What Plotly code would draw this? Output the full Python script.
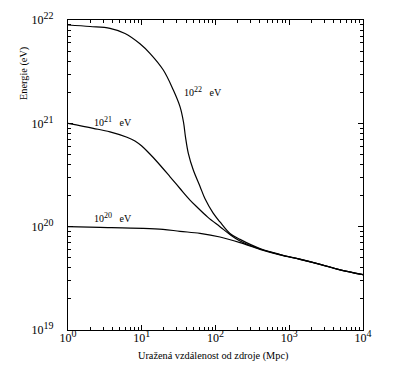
import plotly.graph_objects as go

# Distance from source (Mpc) and energy (eV) for the three initial energies
dist_20 = [1, 2.72, 10.4, 19.4, 33, 61.7, 115, 215, 401, 750, 1400, 2612,
           4875, 10000]
energy_20 = [1.0e20, 9.86e19, 9.64e19, 9.42e19, 9.02e19, 8.61e19, 7.94e19,
             7.0e19, 6.03e19, 5.33e19, 4.82e19, 4.32e19, 3.82e19, 3.43e19]

dist_21 = [1, 2.2, 3.71, 6.31, 8.09, 10, 12.6, 15.8, 24.2, 33.0, 45.1, 56.1,
           79.1, 115, 157, 215, 401, 750, 1400, 2612, 4875, 10000]
energy_21 = [1.0e21, 8.95e20, 8.26e20, 7.33e20, 6.76e20, 6.03e20, 5.13e20,
             4.32e20, 3.04e20, 2.34e20, 1.81e20, 1.55e20, 1.23e20, 1.0e20,
             8.4e19, 7.26e19, 6.08e19, 5.35e19, 4.83e19, 4.32e19, 3.82e19,
             3.43e19]

dist_22 = [1, 1.99, 3.71, 5.93, 9.46, 12.9, 19.6, 26.8, 33.0, 36.8, 39.2, 42.8,
           50.0, 61.7, 72.1, 92.5, 115, 157, 215, 401, 750, 1400, 2612, 4875,
           10000]
energy_22 = [8.95e21, 8.65e21, 8.31e21, 7.41e21, 5.89e21, 4.76e21, 3.28e21,
             2.10e21, 1.45e21, 1.03e21, 7.36e20, 5.13e20, 3.53e20, 2.45e20,
             1.86e20, 1.36e20, 1.11e20, 8.6e19, 7.53e19, 6.14e19, 5.38e19,
             4.85e19, 4.33e19, 3.83e19, 3.44e19]

x_tickvals = [1, 10, 100, 1000, 10000]
x_exps = ["0", "1", "2", "3", "4"]
y_tickvals = [1e19, 1e20, 1e21, 1e22]
y_exps = ["19", "20", "21", "22"]

curve_exps = ["22", "21", "20"]
x_title = "Uražená vzdálenost od zdroje (Mpc)"
y_title = "Energie (eV)"

FONT = "Liberation Serif"


def power_label(exp, sup_px):
    return "10<sup><span style='font-size:%gpx'>%s</span></sup>" % (sup_px, exp)


x_ticktext = [power_label(e, 10) for e in x_exps]
y_ticktext = [power_label(e, 10) for e in y_exps]

# the page body adds an 8px offset; plot area should land at x 68..363, y 20..330
OFF = 8
PL, PR, PT, PB = 68, 363, 20, 330
W, H = 402, 379
pw, ph = PR - PL, PB - PT

fig = go.Figure()
for xs, ys in [(dist_22, energy_22), (dist_21, energy_21), (dist_20, energy_20)]:
    fig.add_trace(go.Scatter(x=xs, y=ys, mode="lines",
                             line=dict(color="black", width=1.2, shape="spline",
                                       smoothing=1.0),
                             showlegend=False, hoverinfo="skip"))

axis_common = dict(
    showgrid=False, zeroline=False, showline=True, linecolor="black",
    linewidth=1, mirror="ticks", ticks="inside", ticklen=5, tickwidth=1,
    tickcolor="black", automargin=False,
    minor=dict(ticks="inside", ticklen=3, tickwidth=1, tickcolor="black",
               dtick="D1", showgrid=False),
    tickfont=dict(family=FONT, size=12, color="black"),
)

fig.update_xaxes(type="log", range=[0, 4], tickvals=x_tickvals,
                 ticktext=x_ticktext, ticklabelstandoff=-3, **axis_common)
fig.update_yaxes(type="log", range=[19, 22], tickvals=y_tickvals,
                 ticktext=y_ticktext, ticklabelstandoff=11, **axis_common)

lab_font = dict(family=FONT, size=10, color="black")
nb = "\u00a0"


def curve_label(exp):
    return ("10<sup><span style='font-size:8px'>%s</span></sup>%seV"
            % (exp, nb * 3))


# curve labels (positions in log10 data units)
fig.add_annotation(x=(202.5 - PL) / 73.75, y=22 - (91 - PT) / 103.33,
                   xref="x", yref="y", text=curve_label(curve_exps[0]),
                   showarrow=False, xanchor="center", yanchor="middle",
                   font=lab_font)
fig.add_annotation(x=(92 - PL) / 73.75, y=22 - (121 - PT) / 103.33,
                   xref="x", yref="y", text=curve_label(curve_exps[1]),
                   showarrow=False, xanchor="left", yanchor="middle",
                   font=lab_font)
fig.add_annotation(x=(92 - PL) / 73.75, y=22 - (217.5 - PT) / 103.33,
                   xref="x", yref="y", text=curve_label(curve_exps[2]),
                   showarrow=False, xanchor="left", yanchor="middle",
                   font=lab_font)

# axis titles, placed in paper coordinates relative to the plot area
fig.add_annotation(x=(213 - PL) / pw, y=(PB - 356) / ph, xref="paper",
                   yref="paper", text=x_title, showarrow=False,
                   xanchor="center", yanchor="middle",
                   font=dict(family=FONT, size=10.3, color="black"))
fig.add_annotation(x=(23.5 - PL) / pw, y=(PB - 73.5) / ph, xref="paper",
                   yref="paper", text=y_title, textangle=-90,
                   showarrow=False, xanchor="center", yanchor="middle",
                   font=dict(family=FONT, size=10.3, color="black"))

fig.update_layout(
    width=W, height=H,
    margin=dict(l=PL - OFF, r=W - PR + OFF, t=PT - OFF, b=H - PB + OFF,
                autoexpand=False),
    plot_bgcolor="white", paper_bgcolor="white",
    font=dict(family=FONT, color="black"),
)

fig.write_html("out.html")
